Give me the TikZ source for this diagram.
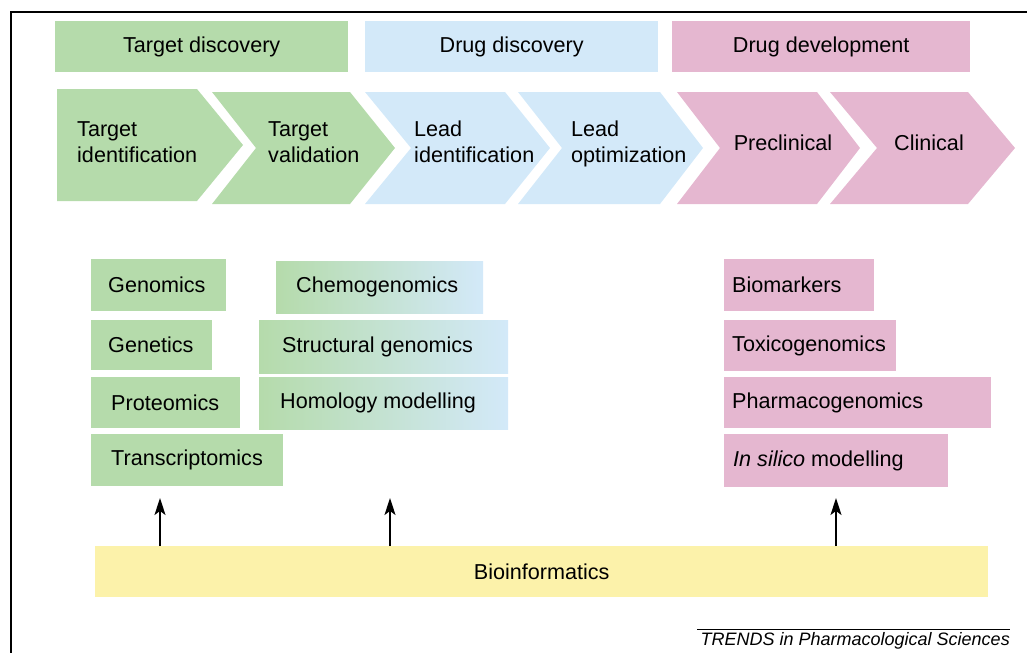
\documentclass[tikz,border=0pt]{standalone}
\usepackage{fontspec}
\setmainfont{Liberation Sans}
\usetikzlibrary{arrows.meta}
\definecolor{tgreen}{RGB}{181,219,171}
\definecolor{dblue}{RGB}{211,233,249}
\definecolor{dpink}{RGB}{229,183,208}
\definecolor{byellow}{RGB}{252,242,170}
\begin{document}
\begin{tikzpicture}[x=1pt,y=-1pt,
  lbl/.style={font=\fontsize{21.6}{26}\selectfont, text=black, inner sep=0pt, align=left},
  panel/.style={draw=none, inner sep=0pt, anchor=north west},
  credit/.style={font=\itshape\fontsize{18}{20}\selectfont, inner sep=0pt, anchor=base east},
  uparrow/.style={line width=1.5pt, -{Stealth[length=17pt, width=11pt, inset=4pt]}}]
\useasboundingbox (0,0) rectangle (1027,653);

% frame
\draw[line width=2.2pt] (1027,12) -- (11,12) -- (11,653);

% phase headers
\node[panel, fill=tgreen, minimum width=293pt, minimum height=51pt] (hTD) at (55,21) {};
\node[lbl] (hTDt) at (hTD.center) {Target discovery};
\node[panel, fill=dblue, minimum width=293pt, minimum height=51pt] (hDD) at (365,21) {};
\node[lbl] (hDDt) at (hDD.center) {Drug discovery};
\node[panel, fill=dpink, minimum width=298pt, minimum height=51pt] (hDV) at (672,21) {};
\node[lbl] (hDVt) at (hDV.center) {Drug development};

% pipeline chevrons
\fill[tgreen] (57,89) -- (197,89) -- (243,145) -- (197,201) -- (57,201) -- cycle;
\fill[tgreen] (212,92) -- (350,92) -- (395,148) -- (350,204) -- (212,204) -- (256,148) -- cycle;
\fill[dblue] (365,92) -- (505,92) -- (550,148) -- (505,204) -- (365,204) -- (411,148) -- cycle;
\fill[dblue] (518,92) -- (660,92) -- (703,148) -- (660,204) -- (518,204) -- (562,148) -- cycle;
\fill[dpink] (677,92) -- (817,92) -- (860,148) -- (817,204) -- (677,204) -- (720,148) -- cycle;
\fill[dpink] (830,92) -- (968,92) -- (1015,148) -- (968,204) -- (830,204) -- (877,148) -- cycle;

\node[lbl, anchor=west] (cTI) at (77,142) {Target\\identification};
\node[lbl, anchor=west] (cTV) at (268,142) {Target\\validation};
\node[lbl, anchor=west] (cLI) at (414,142) {Lead\\identification};
\node[lbl, anchor=west] (cLO) at (571,144) {Lead\\optimization};
\node[lbl] (cPC) at (783,143) {Preclinical};
\node[lbl] (cCL) at (929,143) {Clinical};

% target-side technologies
\node[panel, fill=tgreen, minimum width=135pt, minimum height=52pt] (gen) at (91,259) {};
\node[lbl, anchor=west] (genT) at ([xshift=17pt]gen.west) {Genomics};
\node[panel, fill=tgreen, minimum width=121pt, minimum height=50pt] (gnt) at (91,320) {};
\node[lbl, anchor=west] (gntT) at ([xshift=17pt]gnt.west) {Genetics};
\node[panel, fill=tgreen, minimum width=149pt, minimum height=51pt] (prot) at (91,377) {};
\node[lbl, anchor=west] (protT) at ([xshift=20pt]prot.west) {Proteomics};
\node[panel, fill=tgreen, minimum width=192pt, minimum height=52pt] (trn) at (91,434) {};
\node[lbl, anchor=west] (trnT) at ([xshift=20pt]trn.west) {Transcriptomics};

% technologies spanning target and drug discovery
\node[panel, left color=tgreen, right color=dblue, minimum width=207pt, minimum height=52pt] (chem) at (276,261) {};
\node[lbl, anchor=west] (chemT) at ([xshift=20pt]chem.west) {Chemogenomics};
\node[panel, left color=tgreen, right color=dblue, minimum width=249pt, minimum height=53pt] (sg) at (259,320) {};
\node[lbl, anchor=west] (sgT) at ([xshift=23pt]sg.west) {Structural genomics};
\node[panel, left color=tgreen, right color=dblue, minimum width=249pt, minimum height=52pt] (hm) at (259,377) {};
\node[lbl, anchor=west] (hmT) at ([xshift=21pt]hm.west) {Homology modelling};

% development-side technologies
\node[panel, fill=dpink, minimum width=150pt, minimum height=52pt] (bm) at (724,259) {};
\node[lbl, anchor=west] (bmT) at ([xshift=8pt]bm.west) {Biomarkers};
\node[panel, fill=dpink, minimum width=172pt, minimum height=51pt] (tox) at (724,320) {};
\node[lbl, anchor=west] (toxT) at ([xshift=8pt]tox.west) {Toxicogenomics};
\node[panel, fill=dpink, minimum width=267pt, minimum height=51pt] (pgx) at (724,377) {};
\node[lbl, anchor=west] (pgxT) at ([xshift=8pt]pgx.west) {Pharmacogenomics};
\node[panel, fill=dpink, minimum width=224pt, minimum height=53pt] (ism) at (724,434) {};
\node[lbl, anchor=west] (ismT) at ([xshift=9pt]ism.west) {\textit{In silico} modelling};

% bioinformatics base
\node[panel, fill=byellow, minimum width=893pt, minimum height=51pt] (bio) at (95,546) {};
\node[lbl] (bioT) at (bio.center) {Bioinformatics};

\coordinate (e1) at (160,498);
\coordinate (e2) at (390,498);
\coordinate (e3) at (836,498);
\draw[uparrow] (bio.north -| e1) -- (e1);
\draw[uparrow] (bio.north -| e2) -- (e2);
\draw[uparrow] (bio.north -| e3) -- (e3);

% source line
\draw[line width=1pt] (697,629) -- (1010,629);
\node[credit] (src) at (1010,645) {TRENDS in Pharmacological Sciences};
\end{tikzpicture}
\end{document}
